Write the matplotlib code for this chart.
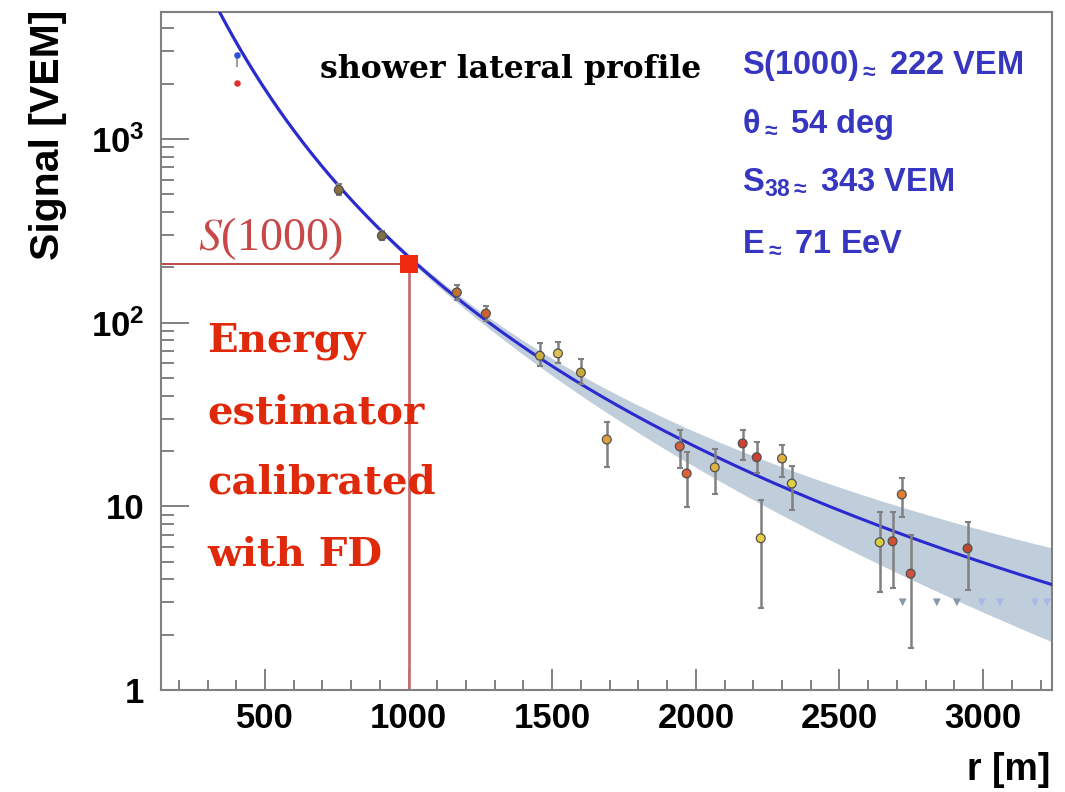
import numpy as np
import matplotlib
matplotlib.use("Agg")
import matplotlib.pyplot as plt
from matplotlib.ticker import MultipleLocator, FixedLocator, LogLocator, NullFormatter

# ---------------- data ----------------
# fitted lateral distribution function
curve_r = [343, 420, 507, 632, 757, 907, 1005, 1144, 1259, 1316, 1455, 1594,
           1944, 2072, 2292, 2640, 2946, 3240]
curve_s = [4820, 2934, 1846, 1025, 528, 297, 209, 151, 112, 90.6, 66.4, 48.4,
           22.8, 18.0, 13.0, 7.69, 5.42, 3.72]

# uncertainty band edges
band_r = [343, 632, 907, 1005, 1144, 1316, 1594, 1944, 2292, 2640, 2946, 3240]
band_hi = [5000, 1065, 305, 213, 158, 100.5, 55.5, 27.0, 16.3, 11.0, 7.9, 5.83]
band_lo = [4640, 985, 289, 205, 144, 82, 42, 18.2, 9.1, 5.0, 2.9, 1.78]

# station signals with error bars
pt_r = [757, 907, 1168, 1269, 1457, 1520, 1600, 1690, 1944, 1968, 2066, 2163,
        2212, 2226, 2300, 2334, 2640, 2685, 2717, 2748, 2946]
pt_s = [528, 297, 146, 112, 66, 68, 53.5, 23.1, 21.2, 15.1, 16.3, 22.0,
        18.5, 6.7, 18.2, 13.3, 6.37, 6.45, 11.6, 4.3, 5.9]
pt_lo = [495, 280, 133, 102, 58, 60, 46.6, 16.3, 16.1, 9.9, 11.7, 17.8,
         15.1, 2.8, 14.4, 9.6, 3.4, 3.6, 8.7, 1.7, 3.5]
pt_hi = [565, 315, 160, 123, 77, 78, 63, 28.6, 25.9, 19.7, 20.6, 25.9,
         22.4, 10.8, 21.6, 16.5, 9.3, 9.3, 14.2, 7.0, 8.2]
pt_colors = ['#8a7040', '#807048', '#c07030', '#d06030', '#c8b040', '#e0c050',
             '#c8a838', '#e0a040', '#d06040', '#e06030', '#e0b040', '#d04030',
             '#d04030', '#e8d040', '#e0b040', '#e0d040', '#d8d040', '#d05030',
             '#e08030', '#d05040', '#c04830']

# saturated station near the core
sat_r = 402
sat_hi = 2863
sat_lo_err = 2460
sat_low = 2014

# non-triggered stations (upper limits)
tri_r = [2720, 2839, 2909, 2996, 3059, 3181, 3223]
tri_s = [3.0, 3.0, 3.0, 3.0, 3.0, 3.0, 3.0]
tri_colors = ['#8898a8', '#8898a8', '#8898a8', '#a8b8e8', '#a8b8e8', '#a8b8e8', '#a8b8e8']

# S(1000) marker
s1000_r = 1000
s1000_val = 208

x_ticks = [500, 1000, 1500, 2000, 2500, 3000]
y_ticks = [1, 10, 100, 1000]
y_ticklabels = ['1', '10', '$10^2$', '$10^3$']

info_lines = [r'S(1000)$_{\approx}$ 222 VEM', r'θ$_{\approx}$ 54 deg',
              r'S$_{38\approx}$ 343 VEM', r'E$_{\approx}$ 71 EeV']
energy_lines = ['Energy', 'estimator', 'calibrated', 'with FD']

# ---------------- style ----------------
plt.rcParams['font.family'] = ['Liberation Sans', 'DejaVu Sans']
plt.rcParams['mathtext.fontset'] = 'custom'
plt.rcParams['mathtext.rm'] = 'Liberation Sans:bold'
plt.rcParams['mathtext.it'] = 'Liberation Sans:italic:bold'
plt.rcParams['mathtext.bf'] = 'Liberation Sans:bold'

W, H = 1065, 792
fig = plt.figure(figsize=(W / 100, H / 100), dpi=100)
ax = fig.add_axes([161 / W, 1 - 690 / H, (1052 - 161) / W, (690 - 12) / H])
ax.set_yscale('log')
ax.set_xlim(138, 3240)
ax.set_ylim(1, 4910)

# band
rr = np.linspace(320, 3240, 500)
p_hi = np.polyfit(np.log10(band_r), np.log10(band_hi), 3)
p_lo = np.polyfit(np.log10(band_r), np.log10(band_lo), 3)
ax.fill_between(rr, 10 ** np.polyval(p_lo, np.log10(rr)),
                10 ** np.polyval(p_hi, np.log10(rr)),
                color='#c0cedb', lw=0, zorder=1)

# fitted curve
p_c = np.polyfit(np.log10(curve_r), np.log10(curve_s), 3)
ax.plot(rr, 10 ** np.polyval(p_c, np.log10(rr)), color='#2a2ad0', lw=2.2, zorder=3)

# S(1000) guide lines
ax.hlines(s1000_val, ax.get_xlim()[0], s1000_r, color='#c04848', lw=1.4, zorder=2)
ax.vlines(s1000_r, ax.get_ylim()[0], s1000_val, color='#c27078', lw=2.0, zorder=2)

# data points
pr = np.array(pt_r); ps = np.array(pt_s)
ax.errorbar(pr, ps, yerr=[ps - np.array(pt_lo), np.array(pt_hi) - ps], fmt='none',
            ecolor='#808080', elinewidth=1.8, capsize=2.5, capthick=1.5, zorder=4)
ax.scatter(pr, ps, s=40, c=pt_colors, edgecolors='#505050', linewidths=0.9, zorder=5)

# saturated station
ax.errorbar([sat_r], [sat_hi], yerr=[[sat_hi - sat_lo_err], [0]], fmt='none',
            ecolor='#a0a0a0', elinewidth=1.5, zorder=4)
ax.scatter([sat_r], [sat_hi], s=22, c='#3050d8', lw=0, zorder=5)
ax.scatter([sat_r], [sat_low], s=22, c='#e03030', lw=0, zorder=5)

# upper limits
ax.scatter(tri_r, tri_s, marker='v', s=32, c=tri_colors, lw=0, zorder=4)

# S(1000) square
ax.scatter([s1000_r], [s1000_val], marker='s', s=170, color='#f02a10', lw=0, zorder=8)

# ticks
ax.xaxis.set_major_locator(FixedLocator(x_ticks))
ax.xaxis.set_minor_locator(MultipleLocator(100))
ax.yaxis.set_major_locator(FixedLocator(y_ticks))
ax.yaxis.set_minor_locator(LogLocator(base=10, subs=np.arange(2, 10), numticks=30))
ax.yaxis.set_minor_formatter(NullFormatter())
ax.set_yticklabels(y_ticklabels)
ax.tick_params(which='both', direction='in', top=False, right=False,
               color='#808080', width=1.4, labelsize=25)
ax.tick_params(axis='x', which='major', length=15, pad=9)
ax.tick_params(axis='x', which='minor', length=7)
ax.tick_params(axis='y', which='major', length=20, pad=12)
ax.tick_params(axis='y', which='minor', length=9.5)
for lab in ax.get_xticklabels() + ax.get_yticklabels():
    lab.set_fontweight('bold')
for s in ax.spines.values():
    s.set_color('#808080')
    s.set_linewidth(1.5)

# axis titles
fig.text(48 / W, 1 - 10 / H, 'Signal [VEM]', rotation=90, ha='center', va='top',
         fontsize=29.5, fontweight='bold')
fig.text(1050 / W, 1 - 770 / H, 'r [m]', ha='right', va='center',
         fontsize=27, fontweight='bold')

# annotations
fig.text(320 / W, 1 - 78 / H, 'shower lateral profile', family='DejaVu Serif',
         fontweight='bold', fontsize=22.8, color='black', va='baseline')
fig.text(198 / W, 1 - 250 / H, r'$S$(1000)', family='Liberation Serif',
         fontweight='normal', fontsize=33, color='#c84848', va='baseline',
         math_fontfamily='stix')
for txt, yb in zip(energy_lines, [352, 423, 494, 566]):
    fig.text(207 / W, 1 - yb / H, txt, family='DejaVu Serif', fontweight='bold',
             fontsize=29, color='#e0280a', va='baseline')
for txt, yb in zip(info_lines, [74, 133, 192, 251]):
    fig.text(742 / W, 1 - yb / H, txt, fontweight='bold', fontsize=23.5,
             color='#3636c0', va='baseline')

fig.savefig('out.png', dpi=100)
